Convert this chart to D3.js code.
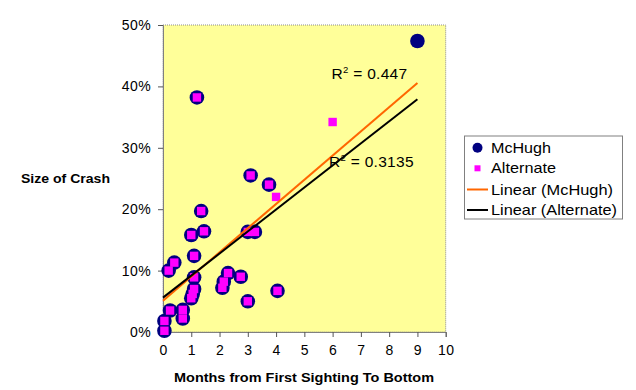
<!DOCTYPE html>
<html><head><meta charset="utf-8">
<script src="https://cdn.jsdelivr.net/npm/d3@7"></script>
<style>body{margin:0;background:#fff}svg{display:block}text{font-family:"Liberation Sans",Arial,sans-serif}</style>
</head><body><svg id="c" width="636" height="390"></svg>
<script>
// shared points (both series)
const sharedX = [1.2, 3.1, 3.75, 1.35, 1.0, 1.45, 1.1, 0.4, 0.2, 1.1, 1.1, 1.05, 1.0, 2.3, 2.15, 2.1, 2.75, 3.0, 3.25, 3.0, 4.05, 0.25, 0.7, 0.7, 0.05, 0.05];
const sharedY = [38.2, 25.5, 24.0, 19.7, 15.8, 16.4, 12.4, 11.3, 10.0, 8.9, 7.0, 6.2, 5.5, 9.6, 8.2, 7.2, 9.0, 16.3, 16.3, 5.0, 6.7, 3.5, 3.6, 2.2, 1.8, 0.2];
const mchughX = sharedX.concat([9.0]);
const mchughY = sharedY.concat([47.4]);
const altX = sharedX.concat([6.0, 4.0]);
const altY = sharedY.concat([34.2, 22.0]);
const trendNames = ["Linear (McHugh)", "Linear (Alternate)"];
const trendIntercepts = [5.1, 5.6];
const trendSlopes = [3.94, 3.59];
const trendR2 = ["0.447", "0.3135"];
const xTicks = [0,1,2,3,4,5,6,7,8,9,10];
const yTicks = [0,10,20,30,40,50];
const legendLabels = ["McHugh", "Alternate", "Linear (McHugh)", "Linear (Alternate)"];

const svg = d3.select("#c");
const L = 163, T = 25, R = 445.7, B = 332;
const x = d3.scaleLinear().domain([0,10]).range([L,R]);
const y = d3.scaleLinear().domain([0,50]).range([B,T]);

svg.append("rect").attr("x",L).attr("y",T).attr("width",R-L).attr("height",B-T)
  .attr("fill","#FFFF99").attr("stroke","#8c8c8c").attr("stroke-dasharray","1,1");

const xa = svg.append("g").attr("transform",`translate(0,${B})`)
  .call(d3.axisBottom(x).tickValues(xTicks).tickSize(5).tickPadding(8).tickFormat(d3.format("d")));
const ya = svg.append("g").attr("transform",`translate(${L},0)`)
  .call(d3.axisLeft(y).tickValues(yTicks).tickSize(5).tickPadding(7).tickFormat(d=>d+"%"));
[xa,ya].forEach(a=>{
  a.select(".domain").attr("stroke","#808080");
  a.selectAll(".tick line").attr("stroke","#555");
  a.selectAll("text").attr("font-size",14).attr("letter-spacing",0.4).attr("fill","#000").attr("font-family","Liberation Sans, Arial, sans-serif");
});

// McHugh circles
svg.append("g").selectAll("circle").data(mchughX.map((d,i)=>[d,mchughY[i]])).join("circle")
  .attr("cx",d=>x(d[0])).attr("cy",d=>y(d[1])).attr("r",7.3).attr("fill","#000080");
// Alternate squares
svg.append("g").selectAll("rect").data(altX.map((d,i)=>[d,altY[i]])).join("rect")
  .attr("x",d=>x(d[0])-4.2).attr("y",d=>y(d[1])-4.2).attr("width",8.4).attr("height",8.4).attr("fill","#FF00FF");

// trend lines
const trendColors = ["#FF6600","#000000"];
trendNames.forEach((n,i)=>{
  svg.append("line")
    .attr("x1",x(0)).attr("y1",y(trendIntercepts[i]))
    .attr("x2",x(9)).attr("y2",y(trendIntercepts[i]+trendSlopes[i]*9))
    .attr("stroke",trendColors[i]).attr("stroke-width",2);
});

// R2 labels
const r2Pos = [[331.5,79],[329,167]];
trendR2.forEach((v,i)=>{
  const t = svg.append("text").attr("x",r2Pos[i][0]).attr("y",r2Pos[i][1]).attr("font-size",15.5).attr("letter-spacing",0.3).attr("fill","#000");
  t.append("tspan").text("R");
  t.append("tspan").text("2").attr("font-size",9.5).attr("dy",-6.5);
  t.append("tspan").text(" = "+v).attr("dy",6.5);
});

// axis titles
svg.append("text").attr("x",174).attr("y",382).attr("font-weight","bold").attr("font-size",13)
  .attr("textLength",260).attr("lengthAdjust","spacingAndGlyphs").text("Months from First Sighting To Bottom");
svg.append("text").attr("x",21).attr("y",183).attr("font-weight","bold").attr("font-size",13)
  .attr("textLength",89).attr("lengthAdjust","spacingAndGlyphs").text("Size of Crash");

// legend
const lg = svg.append("g");
lg.append("rect").attr("x",464.5).attr("y",136).attr("width",158).attr("height",83).attr("fill","#fff").attr("stroke","#808080");
const rows = [147.7,168.3,189.5,210];
const legendW = [60,65,122,126];
legendLabels.forEach((lab,i)=>{
  const cy = rows[i];
  if(i===0) lg.append("circle").attr("cx",477.5).attr("cy",cy).attr("r",5).attr("fill","#000080");
  else if(i===1) lg.append("rect").attr("x",474.5).attr("y",cy-3).attr("width",6).attr("height",6).attr("fill","#FF00FF");
  else lg.append("line").attr("x1",467).attr("x2",488).attr("y1",cy).attr("y2",cy).attr("stroke",trendColors[i-2]).attr("stroke-width",2);
  lg.append("text").attr("x",491).attr("y",cy+5).attr("font-size",15)
    .attr("textLength",legendW[i]).attr("lengthAdjust","spacingAndGlyphs").text(lab);
});
</script></body></html>
